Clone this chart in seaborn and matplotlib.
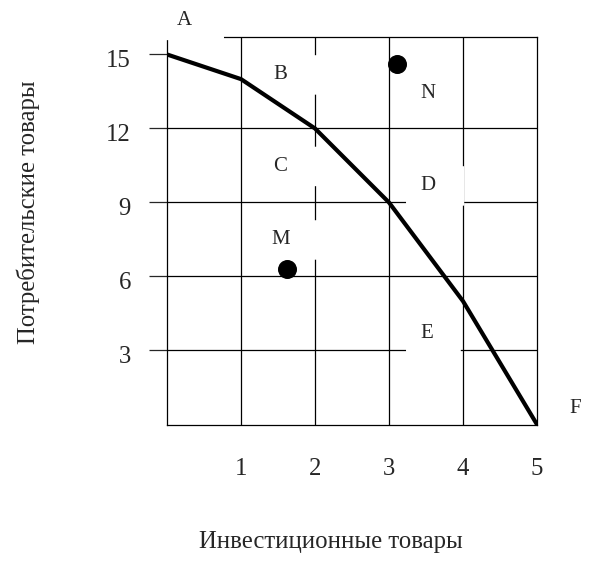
import matplotlib
matplotlib.use("Agg")
import matplotlib.pyplot as plt
import seaborn as sns
from matplotlib.patches import Rectangle
from matplotlib.transforms import ScaledTranslation

# ---- data ----
invest = [0, 1, 2, 3, 4, 5]
consumer = [15, 14, 12, 9, 5, 0]
point_names = ["A", "B", "C", "D", "E", "F"]
label_x = [0.24, 1.53, 1.53, 3.53, 3.51, 5.51]
label_y = [16.38, 14.17, 10.46, 9.67, 3.70, 0.66]

extra_names = ["M", "N"]
extra_x = [1.615, 3.108]
extra_y = [6.32, 14.60]
extra_label_x = [1.54, 3.53]
extra_label_y = [7.48, 13.40]

x_ticks = [1, 2, 3, 4, 5]
y_ticks = [3, 6, 9, 12, 15]
grid_x = [1, 2, 3, 4]
grid_y = [3, 6, 9, 12]
x_title = "Инвестиционные товары"
y_title = "Потребительские товары"

# ---- style: white masks behind some labels (left offset, right offset) ----
box_style = {"A": (-0.30, 0.53), "B": (-0.29, 0.50), "C": (-0.29, 0.50),
             "D": (-0.30, 0.487), "E": (-0.28, 0.46), "M": (-0.29, 0.50)}

sns.set_style("white")
plt.rcParams["font.family"] = ["Liberation Serif", "DejaVu Serif"]

W, H = 609, 573
fig = plt.figure(figsize=(W / 100, H / 100), dpi=100)
ax = fig.add_axes([167 / W, 1 - 424.5 / H, 370 / W, 387.5 / H])
ymax = 387.5 / 24.67
ax.set_xlim(0, 5)
ax.set_ylim(0, ymax)

for s in ax.spines.values():
    s.set_color("black")
    s.set_linewidth(0.9)
    s.set_zorder(1)

ax.vlines(grid_x, 0, ymax, color="black", linewidth=0.9, zorder=1)
ax.hlines(grid_y, 0, 5, color="black", linewidth=0.9, zorder=1)

all_names = point_names + extra_names
all_lx = label_x + extra_label_x
all_ly = label_y + extra_label_y
for n, lx, ly in zip(all_names, all_lx, all_ly):
    if n in box_style:
        l, r = box_style[n]
        ax.add_patch(Rectangle((lx + l, ly - 0.80), r - l, 1.60,
                               facecolor="white", edgecolor="none",
                               zorder=3, clip_on=False, snap=False))

sns.lineplot(x=invest, y=consumer, color="black", linewidth=3.0,
             sort=False, zorder=4, ax=ax)
sns.scatterplot(x=extra_x, y=extra_y, s=160, color="black",
                edgecolor="black", zorder=5, ax=ax, clip_on=False)

for n, lx, ly in zip(all_names, all_lx, all_ly):
    ax.text(lx, ly, n, ha="center", va="center", fontsize=15,
            zorder=6, clip_on=False)

ax.set_xticks(x_ticks)
ax.set_xticklabels([str(v) for v in x_ticks])
ax.set_yticks(y_ticks)
ax.set_yticklabels([str(v) for v in y_ticks])
ax.tick_params(axis="x", length=0, pad=24, labelsize=17.8)
ax.tick_params(axis="y", direction="out", length=13, width=0.9,
               pad=13, labelsize=17.8, left=True)
off = ScaledTranslation(0, -4 / 100, fig.dpi_scale_trans)
for lab in ax.get_yticklabels():
    lab.set_transform(lab.get_transform() + off)
ax.set_xlabel("")
ax.set_ylabel("")

fig.text(330.5 / W, 1 - 548 / H, x_title, ha="center", va="baseline",
         fontsize=17.8)
fig.text(28.5 / W, 1 - 212.5 / H, y_title, ha="center", va="center",
         rotation=90, fontsize=17.8)

fig.savefig("out.png", dpi=100, facecolor="white")
